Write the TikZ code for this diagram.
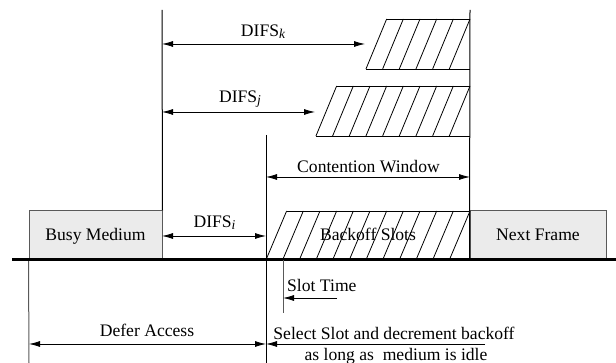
\documentclass[tikz,border=0pt]{standalone}
\usepackage{fontspec}
\setmainfont{Liberation Serif}
\usetikzlibrary{arrows.meta}
\newcommand{\stn}[1]{\raisebox{-1.5pt}{\fontsize{13.5}{14}\selectfont\itshape #1}}
\tikzset{%
  % Specifications for style of nodes:
    base/.style = {font=\fontsize{17.6}{22}\selectfont, inner sep=0pt},
    frame/.style = {base, rectangle, draw=gray!70!black, fill=gray!16,
                    line width=1pt, text height=13pt, text depth=3pt},
    label/.style = {base, anchor=base},
    wall/.style = {draw=black, line width=1pt},
    hatch/.style = {draw=black, line width=0.8pt},
    span/.style = {<->, line width=0.8pt},
    ray/.style = {->, line width=0.8pt}%
}

\begin{document}
\begin{tikzpicture}[x=1pt,y=-1pt,>={Latex[length=11pt,width=6pt]}]
\useasboundingbox (0,0) rectangle (616,363);
\def\yl{260}   % medium line
\def\dx{16.67} % slot width
\def\sl{20.7}  % slant of the hatch
\def\xr{449.3} % last slot line

% frames on the medium
\node[frame, minimum width=133pt, minimum height=49pt] (busy) at (95.5,235.5) {Busy Medium};
\node[frame, minimum width=136pt, minimum height=49pt] (next) at (538,235.5) {Next Frame};

\coordinate (Ta) at (162,10);
\coordinate (Tc) at (470,10);
\coordinate (Sb) at (266,135);
\coordinate (Eb) at (266,363);
\coordinate (Ea) at (29,363);

\draw[wall] (busy.north east) -- (Ta);
\draw[wall] (next.south west) -- (Tc);
\draw[wall] (Sb) -- (Eb);
\draw[draw=gray!70!black, line width=1pt] (busy.south west) -- (Ea);

% backoff slots
\foreach \m in {0,...,11}
  \draw[hatch] ({\xr-\dx*\m},\yl) -- ({\xr-\dx*\m+\sl},211);
\draw[hatch] (286.7,211) -- (470,211);
\node[label] (bo) at (368,241) {Backoff Slots};

% slots of station k
\foreach \m in {0,...,5}
  \draw[hatch] ({\xr-\dx*\m},69) -- ({\xr-\dx*\m+\sl},19);
\draw[hatch] (386.7,19) -- (470,19);
\draw[hatch] (366,69) -- (470,69);

% slots of station j
\foreach \m in {0,...,8}
  \draw[hatch] ({\xr-\dx*\m},136) -- ({\xr-\dx*\m+\sl},86);
\draw[hatch] (336.7,86) -- (470,86);
\draw[hatch] (316,136) -- (470,136);

\draw[line width=3pt] (12,\yl) -- (616,\yl);

% interframe spaces
\coordinate (K0) at (162,44);
\coordinate (K1) at (365,44);
\draw[span] (K0) -- (K1);
\node[label] (lk) at (263,37) {DIFS\stn{k}};

\coordinate (J0) at (162,112);
\coordinate (J1) at (315,112);
\draw[span] (J0) -- (J1);
\node[label] (lj) at (240,103) {DIFS\stn{j}};

\coordinate (I0) at (162,236);
\coordinate (I1) at (266,236);
\draw[span] (I0) -- (I1);
\node[label] (li) at (214.5,228) {DIFS\stn{i}};

\coordinate (C0) at (266,177);
\coordinate (C1) at (470,177);
\draw[span] (C0) -- (C1);
\node[label] (lc) at (368.5,173) {Contention Window};

% slot time
\coordinate (St) at (283,\yl);
\coordinate (Sd) at (283,313);
\coordinate (S1) at (337,298);
\coordinate (S0) at (283,298);
\draw[draw=gray!70!black, line width=1pt] (St) -- (Sd);
\draw[ray] (S1) -- (S0);
\node[label, anchor=base west] (ls) at (287,292) {Slot Time};

% defer and select
\coordinate (D0) at (29,344);
\coordinate (D1) at (266,344);
\coordinate (D2) at (485,344);
\draw[span] (D0) -- (D1);
\draw[ray] (D2) -- (D1);
\node[label] (ld) at (147,337) {Defer Access};
\node[label] (lsel) at (394,340) {Select Slot and decrement backoff};
\node[label] (lidle) at (396,360) {as long as\ \ medium is idle};

\end{tikzpicture}
\end{document}
